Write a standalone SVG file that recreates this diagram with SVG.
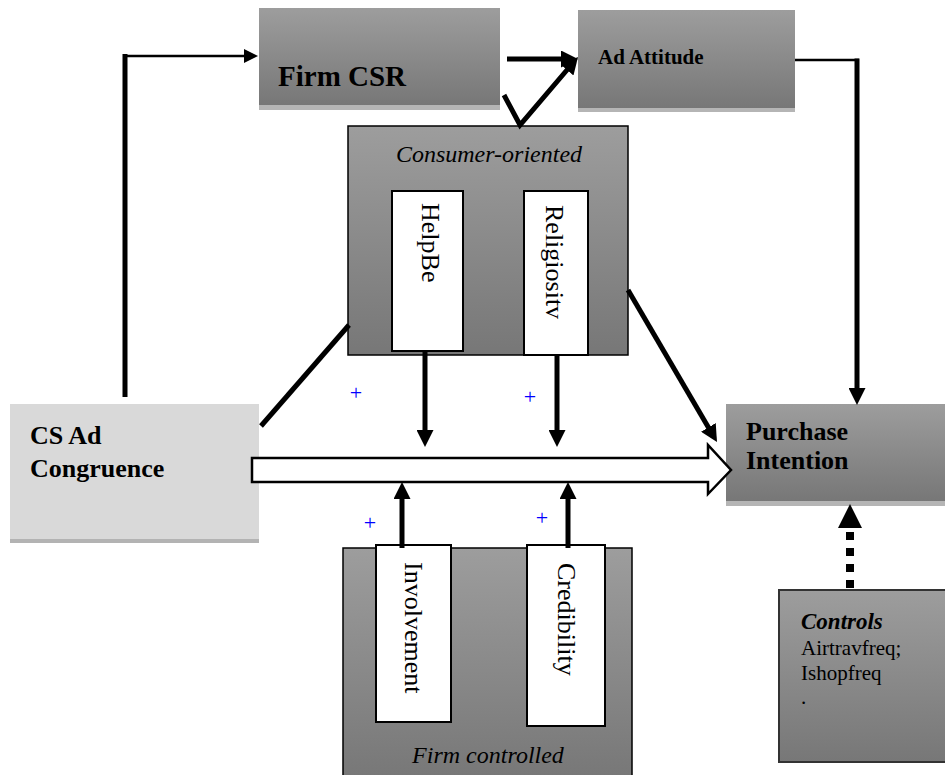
<svg xmlns="http://www.w3.org/2000/svg" width="945" height="775" viewBox="0 0 945 775">
  <defs>
    <linearGradient id="grey" x1="0" y1="0" x2="0" y2="1">
      <stop offset="0" stop-color="#9d9d9d"/>
      <stop offset="1" stop-color="#777777"/>
    </linearGradient>
    <marker id="ah" markerUnits="userSpaceOnUse" markerWidth="17" markerHeight="17" viewBox="0 0 10 10" refX="5" refY="5" orient="auto">
      <path d="M0,0 L10,5 L0,10 z" fill="#000"/>
    </marker>
    <marker id="ah-thin" markerUnits="userSpaceOnUse" markerWidth="14" markerHeight="14" viewBox="0 0 10 10" refX="5" refY="5" orient="auto">
      <path d="M0,0 L10,5 L0,10 z" fill="#000"/>
    </marker>
    <marker id="ah-big" markerUnits="userSpaceOnUse" markerWidth="24" markerHeight="24" viewBox="0 0 10 10" refX="5" refY="5" orient="auto">
      <path d="M0,0 L10,5 L0,10 z" fill="#000"/>
    </marker>
  </defs>
  <style>
    .box { fill: url(#grey); }
    .framed { fill: url(#grey); stroke: #000; stroke-width: 1.5; }
    .ctrl { fill: url(#grey); stroke: #333; stroke-width: 2; }
    .shadow { fill: #b5b5b5; }
    .inner { fill: #fff; stroke: #000; stroke-width: 2; }
    .lbl { font-family: 'Liberation Serif', serif; fill: #000; }
    .bold { font-weight: bold; }
    .ital { font-style: italic; }
    .plus { font-family: 'Liberation Serif', serif; font-size: 22px; fill: #0000ff; text-anchor: middle; }
    .wire { fill: none; stroke: #000; stroke-width: 5; }
    .thin { fill: none; stroke: #000; stroke-width: 2.5; }
  </style>

  <rect width="945" height="775" fill="#fff"/>

  <!-- nodes -->
  <g id="firm-csr">
    <rect class="shadow" x="259" y="104" width="241" height="6"/>
    <rect class="box" x="259" y="8" width="241" height="97"/>
    <text class="lbl bold" x="278" y="86" font-size="29">Firm CSR</text>
  </g>

  <g id="ad-attitude">
    <rect class="shadow" x="578" y="107" width="217" height="5"/>
    <rect class="box" x="578" y="10" width="217" height="98"/>
    <text class="lbl bold" x="598" y="64" font-size="21">Ad Attitude</text>
  </g>

  <g id="consumer-oriented">
    <rect class="framed" x="348" y="126" width="280" height="229"/>
    <text class="lbl ital" x="489" y="162" font-size="24" text-anchor="middle">Consumer-oriented</text>
  </g>

  <g id="helpbe">
    <rect class="inner" x="392" y="191" width="71" height="160"/>
    <text class="lbl" font-size="26" transform="translate(422,203) rotate(90)">HelpBe</text>
  </g>

  <g id="religiosity">
    <rect class="inner" x="524" y="191" width="64" height="164"/>
    <text class="lbl" font-size="26" transform="translate(546,205) rotate(90)">Religiositv</text>
  </g>

  <g id="cs-ad-congruence">
    <rect fill="#b3b3b3" x="10" y="538" width="249" height="5"/>
    <rect fill="#d9d9d9" x="10" y="404" width="249" height="135"/>
    <text class="lbl bold" font-size="26" x="30" y="444">CS Ad</text>
    <text class="lbl bold" font-size="26" x="30" y="477">Congruence</text>
  </g>

  <g id="purchase-intention">
    <rect class="shadow" x="726" y="500" width="221" height="6"/>
    <rect class="box" x="726" y="404" width="221" height="97"/>
    <text class="lbl bold" font-size="26" x="746" y="440">Purchase</text>
    <text class="lbl bold" font-size="26" x="746" y="469">Intention</text>
  </g>

  <g id="firm-controlled">
    <rect class="framed" x="343" y="548" width="289" height="232"/>
    <text class="lbl ital" x="488" y="763" font-size="24" text-anchor="middle">Firm controlled</text>
  </g>

  <g id="involvement">
    <rect class="inner" x="376" y="545" width="75" height="177"/>
    <text class="lbl" font-size="26" transform="translate(405,562) rotate(90)">Involvement</text>
  </g>

  <g id="credibility">
    <rect class="inner" x="527" y="545" width="78" height="181"/>
    <text class="lbl" font-size="26" transform="translate(558,563) rotate(90)">Credibility</text>
  </g>

  <g id="controls">
    <rect class="ctrl" x="779" y="590" width="170" height="172"/>
    <text class="lbl bold ital" font-size="23" x="801" y="629">Controls</text>
    <text class="lbl" font-size="21" x="801" y="655">Airtravfreq;</text>
    <text class="lbl" font-size="21" x="801" y="680">Ishopfreq</text>
    <text class="lbl" font-size="21" x="801" y="704">.</text>
  </g>

  <!-- connectors -->
  <g id="connectors">
    <!-- congruence up to Firm CSR -->
    <path class="wire" d="M125,397 V54"/>
    <path class="thin" d="M123,56 H251" marker-end="url(#ah-thin)"/>
    <!-- Firm CSR to Ad Attitude -->
    <path class="wire" d="M507,59 H569.5" marker-end="url(#ah)"/>
    <!-- consumer-oriented up to Ad Attitude -->
    <path class="wire" d="M504,95 L520,125 L572.5,63.5" marker-end="url(#ah)"/>
    <!-- Ad Attitude to Purchase Intention -->
    <path class="thin" d="M795,60 H859"/>
    <path class="wire" d="M857,58.5 V396.5" marker-end="url(#ah)"/>
    <!-- consumer-oriented to Purchase Intention -->
    <path class="wire" d="M628,290 L712.7,434.7" marker-end="url(#ah)"/>
    <!-- congruence to consumer-oriented -->
    <path class="wire" d="M349,325 L261,426"/>
    <!-- moderators on the main path -->
    <path class="wire" d="M425,351 V438.5" marker-end="url(#ah)"/>
    <path class="wire" d="M557,355 V438.5" marker-end="url(#ah)"/>
    <path class="wire" d="M402,548 V490.5" marker-end="url(#ah)"/>
    <path class="wire" d="M568,548 V490.5" marker-end="url(#ah)"/>
    <!-- main effect: congruence to Purchase Intention -->
    <polygon points="252,458 708,458 708,445 731,470 708,494 708,482 252,482" fill="#fff" stroke="#000" stroke-width="2.5" stroke-linejoin="miter"/>
    <!-- controls -->
    <path d="M850,588 V516" fill="none" stroke="#000" stroke-width="8" stroke-dasharray="8 8" marker-end="url(#ah-big)"/>
    <!-- signs -->
    <text class="plus" x="356" y="400">+</text>
    <text class="plus" x="530" y="404">+</text>
    <text class="plus" x="370" y="530">+</text>
    <text class="plus" x="542" y="525">+</text>
  </g>
</svg>
